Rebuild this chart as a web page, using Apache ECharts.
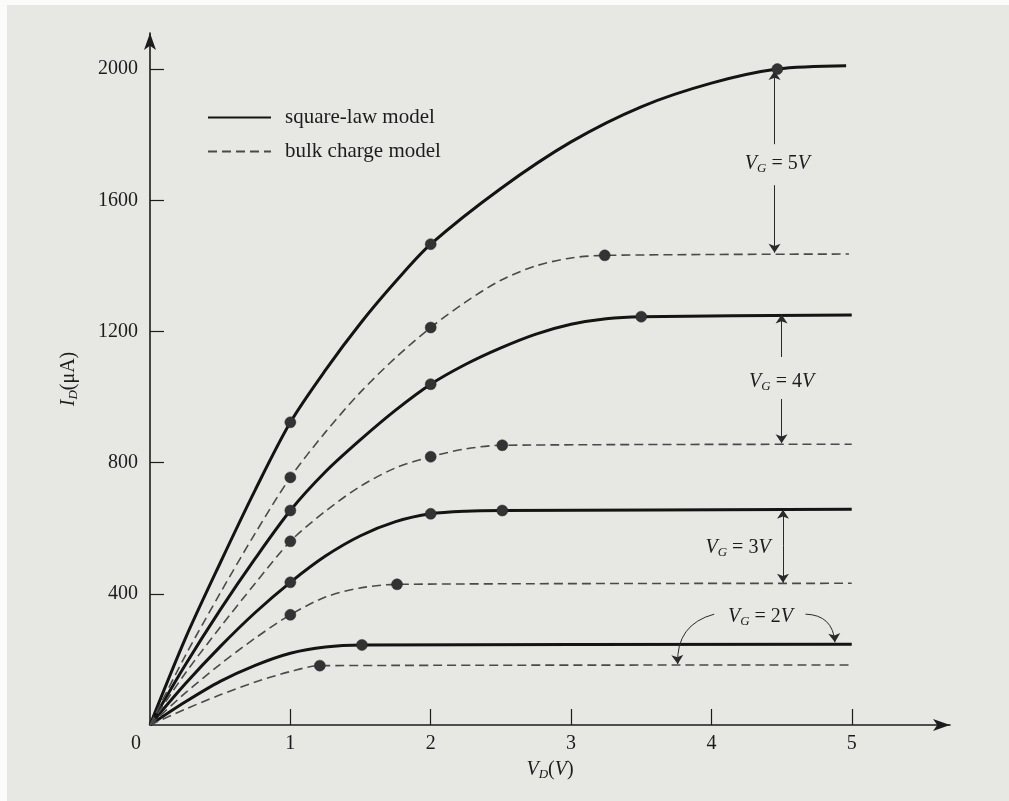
<!DOCTYPE html>
<html>
<head>
<meta charset="utf-8">
<script src="https://cdn.jsdelivr.net/npm/echarts@6/dist/echarts.min.js"></script>
<style>
  html, body { margin: 0; padding: 0; background: #fbfbfa; overflow: hidden; }
  #mychart { position: absolute; left: 7px; top: 5px; width: 1002px; height: 796px; }
</style>
</head>
<body>
<div id="mychart"></div>
<script>
// tick labels
var vdTicks = [0, 1, 2, 3, 4, 5];
var idTicks = [400, 800, 1200, 1600, 2000];

// square-law model, [V_D, I_D(uA)]
var sq5 = [[0,0],[0.25,262],[0.5,494],[0.75,717],[1,923],[1.25,1082],[1.5,1225],[1.75,1352],[2,1466],
           [2.5,1636],[3,1778],[3.5,1885],[4,1957],[4.47,2000],[4.96,2010]];
var sq4 = [[0,0],[0.25,182],[0.5,351],[0.75,508],[1,654],[1.25,772],[1.5,870],[1.75,960],[2,1039],
           [2.25,1100],[2.5,1150],[2.75,1192],[3,1222],[3.25,1239],[3.5,1245],[5,1250]];
var sq3 = [[0,0],[0.25,125],[0.5,239],[0.75,343],[1,435],[1.25,515],[1.5,577],[1.75,620],[2,644],
           [2.25,652],[2.51,654],[5,658]];
var sq2 = [[0,0],[0.25,70],[0.5,133],[0.75,182],[1,219],[1.25,238],[1.51,244],[5,246]];

// bulk charge model
var bk5 = [[0,0],[0.25,210],[0.5,402],[0.75,585],[1,755],[1.25,893],[1.5,1015],[1.75,1120],[2,1212],
           [2.25,1290],[2.5,1356],[2.75,1400],[3,1424],[3.24,1432],[4.98,1436]];
var bk4 = [[0,0],[0.25,157],[0.5,298],[0.75,432],[1,560],[1.25,652],[1.5,728],[1.75,784],[2,818],
           [2.25,842],[2.51,853],[5,856]];
var bk3 = [[0,0],[0.25,97],[0.5,185],[0.75,265],[1,336],[1.25,390],[1.5,418],[1.76,429],[5,432]];
var bk2 = [[0,0],[0.25,48],[0.5,92],[0.75,131],[1,163],[1.21,181],[5,183]];

// marked points on the curves
var dots = [[1,923],[2,1466],[4.47,2000],[1,755],[2,1212],[3.24,1432],
            [1,654],[2,1039],[3.5,1245],[1,560],[2,818],[2.51,853],
            [1,435],[2,644],[2.51,654],[1,336],[1.76,429],
            [1.51,244],[1.21,181]];

var gateVolts = [5, 4, 3, 2];

var serif = '"Liberation Serif", "DejaVu Serif", serif';
var ink = '#1c1c1c';
var subRich = {
    v: { fontFamily: serif, fontStyle: 'italic', fontSize: 20, color: ink },
    s: { fontFamily: serif, fontStyle: 'italic', fontSize: 13, color: ink, padding: [9, 0, 0, 0] },
    t: { fontFamily: serif, fontSize: 20, color: ink }
};

function solid(data) {
    return {
        name: 'square-law model', type: 'line', data: data,
        symbol: 'none', smooth: 0.3,
        lineStyle: { color: '#141414', width: 3, type: 'solid' },
        itemStyle: { color: '#141414' },
        z: 3, animation: false
    };
}
function dashed(data) {
    return {
        name: 'bulk charge model', type: 'line', data: data,
        symbol: 'none', smooth: 0.3,
        lineStyle: { color: '#4a4a4a', width: 1.6, type: [9, 5] },
        itemStyle: { color: '#4a4a4a' },
        z: 3, animation: false
    };
}

var labelPos = [[4.47, 1710], [4.5, 1046], [4.19, 540], [4.35, 329]];
var vgData = gateVolts.map(function (v, i) {
    return { value: labelPos[i], name: '{v|V}{s|G}{t| = ' + v + '}{v|V}' };
});

var myChart = echarts.init(document.getElementById('mychart'));
var option = {
    backgroundColor: '#e7e7e4',
    animation: false,
    grid: { left: 143, right: 59, top: 28, bottom: 76 },
    legend: {
        data: ['square-law model', 'bulk charge model'],
        orient: 'vertical', left: 195, top: 97,
        itemWidth: 63, itemHeight: 14, itemGap: 13,
        itemStyle: { color: 'rgba(0,0,0,0)', borderWidth: 0, opacity: 0 },
        textStyle: { fontFamily: serif, fontSize: 21, color: ink, padding: [0, 0, 0, 9] }
    },
    xAxis: {
        type: 'value', min: 0, max: 5.7, interval: 1,
        name: '{v|V}{s|D}{t|(}{v|V}{t|)}',
        nameLocation: 'middle', nameGap: 34,
        nameTextStyle: { rich: subRich },
        axisLine: { show: true, lineStyle: { color: ink, width: 1.6 }, symbol: ['none', 'arrow'], symbolSize: [9, 17] },
        axisTick: { show: true, inside: true, length: 16, customValues: [1, 2, 3, 4, 5], lineStyle: { color: ink, width: 1.2 } },
        axisLabel: {
            customValues: vdTicks, margin: 9,
            fontFamily: serif, fontSize: 20, color: ink,
            formatter: function (v) { return v === 0 ? '{z|0}' : String(v); },
            rich: { z: { fontFamily: serif, fontSize: 20, color: ink, padding: [0, 28, 0, 0] } }
        },
        splitLine: { show: false }
    },
    yAxis: {
        type: 'value', min: 0, max: 2110, interval: 400,
        name: '{v|I}{s|D}{t|(μA)}',
        nameLocation: 'middle', nameGap: 70, nameRotate: 90,
        nameTextStyle: { rich: subRich },
        axisLine: { show: true, lineStyle: { color: ink, width: 1.6 }, symbol: ['none', 'arrow'], symbolSize: [9, 17] },
        axisTick: { show: true, inside: true, length: 14, customValues: idTicks, lineStyle: { color: ink, width: 1.2 } },
        axisLabel: {
            customValues: idTicks, margin: 12, fontFamily: serif, fontSize: 20, color: ink,
            formatter: function (v) { return String(v); }
        },
        splitLine: { show: false }
    },
    series: [
        solid(sq5), solid(sq4), solid(sq3), solid(sq2),
        dashed(bk5), dashed(bk4), dashed(bk3), dashed(bk2),
        {
            name: 'dots', type: 'scatter', data: dots,
            symbol: 'circle', symbolSize: 11,
            itemStyle: { color: '#333333', borderColor: '#262626', borderWidth: 0.5, opacity: 1 },
            z: 5, animation: false
        },
        {
            name: 'vg', type: 'scatter', data: vgData,
            symbolSize: 0,
            itemStyle: { opacity: 1 },
            label: {
                show: true, position: 'inside', color: ink, textBorderWidth: 0,
                formatter: function (p) { return p.name; },
                rich: subRich
            },
            z: 6, animation: false, silent: true
        },
        {
            name: 'arrows', type: 'lines', coordinateSystem: 'cartesian2d',
            symbol: ['none', 'arrow'], symbolSize: 9,
            lineStyle: { color: '#2a2a2a', width: 1, opacity: 1, curveness: 0 },
            data: [
                { coords: [[4.45, 1771], [4.45, 1994]] },
                { coords: [[4.45, 1646], [4.45, 1440]] },
                { coords: [[4.5, 1122], [4.5, 1252]] },
                { coords: [[4.5, 994], [4.5, 859]] },
                { coords: [[4.51, 548], [4.51, 656]] },
                { coords: [[4.51, 548], [4.51, 434]] },
                { coords: [[4.02, 338], [3.76, 186]], lineStyle: { curveness: -0.4 } },
                { coords: [[4.67, 338], [4.88, 252]], lineStyle: { curveness: 0.45 } }
            ],
            z: 4, animation: false, silent: true
        }
    ]
};
myChart.setOption(option);
</script>
</body>
</html>
